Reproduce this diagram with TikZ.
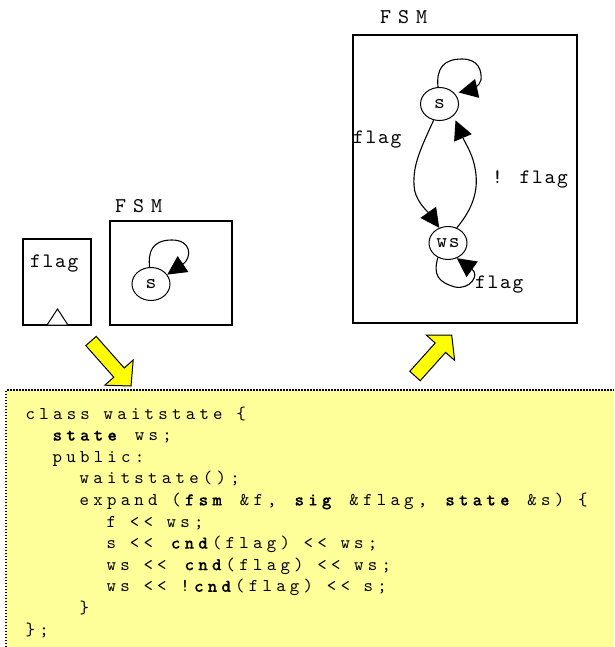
\documentclass[tikz,border=0pt]{standalone}
\usepackage{fontspec}
\usetikzlibrary{arrows.meta,shapes.geometric}
\newfontfamily\codefont{lmmono10-regular.otf}[BoldFont=lmmonolt10-bold.otf, BoldFeatures={FakeBold=0.3}, LetterSpace=23.6]
\newfontfamily\labfont{lmmono10-regular.otf}[LetterSpace=8.5]
\newfontfamily\fsmfont{lmmono10-regular.otf}[LetterSpace=33]
\definecolor{codebg}{RGB}{255,255,153}
\definecolor{arrowyellow}{RGB}{255,255,0}
\tikzset{
  box/.style={draw, line width=1.2pt},
  st/.style={draw, ellipse, line width=1pt, minimum width=38pt, minimum height=33pt, inner sep=0pt,
    font=\labfont\fontsize{20.5}{20.5}\selectfont},
  edge/.style={line width=1.1pt, -{Triangle[length=19pt,width=19pt]}},
  lab/.style={anchor=base west, inner sep=0pt, font=\labfont\fontsize{20.5}{20.5}\selectfont},
  fsmlab/.style={anchor=base west, inner sep=0pt, font=\fsmfont\fontsize{21}{21}\selectfont},
  codeline/.style={anchor=base west, inner sep=0pt, font=\codefont\fontsize{18}{18}\selectfont},
  yarrow/.style={fill=arrowyellow, draw=black, line width=1pt, line join=miter},
  codeborder/.style={line width=1.5pt, dash pattern=on 1.5pt off 1.5pt}
}
\begin{document}
\begin{tikzpicture}[x=1pt,y=-1pt]
\useasboundingbox (0,0) rectangle (614,647);
% code box
\fill[codebg] (6,390) rectangle (614,647);
\draw[codeborder] (6,647) -- (6,390) -- (614,390);
% code lines
\node[codeline] (c1) at (25.5,419) {class waitstate \{};
\node[codeline] (c2) at (52.5,440.6) {\textbf{state} ws;};
\node[codeline] (c3) at (52.5,462.2) {public:};
\node[codeline] (c4) at (79.5,483.8) {waitstate();};
\node[codeline] (c5) at (79.5,505.4) {expand (\textbf{fsm} \&f, \textbf{sig} \&flag, \textbf{state} \&s) \{};
\node[codeline] (c6) at (106.5,527) {f <{}< ws;};
\node[codeline] (c7) at (106.5,548.6) {s <{}< \textbf{cnd}(flag) <{}< ws;};
\node[codeline] (c8) at (106.5,570.2) {ws <{}< \textbf{cnd}(flag) <{}< ws;};
\node[codeline] (c9) at (106.5,591.8) {ws <{}< !\textbf{cnd}(flag) <{}< s;};
\node[codeline] (c10) at (79.5,613.4) {\}};
\node[codeline] (c11) at (25.5,635) {\};};
% yellow arrows
\draw[yarrow] (85.8,345.6) -- (113.8,377.2) -- (104.8,385.2) -- (131,386) -- (133.2,360) -- (124.2,368) -- (96.2,336.4) -- cycle;
\draw[yarrow] (420.2,380.7) -- (445.6,352.4) -- (454.6,360.4) -- (451.7,335) -- (426.2,335) -- (435.2,343) -- (409.8,371.3) -- cycle;
% flag box
\draw[box] (23,239) rectangle (91,325);
\node[lab] (flaglab) at (30,267.3) {flag};
\draw[line width=1pt, fill=white] (47,325) -- (57.5,309) -- (68,325) -- cycle;
% small FSM
\node[fsmlab] (fsm1) at (115,212) {FSM};
\draw[box] (110,221) rectangle (232,325);
\node[st] (s1) at (151,284) {s};
\draw[edge] (s1.95) .. controls (148,252) and (152,240) .. (172,240) .. controls (192,240) and (192,258) .. (s1.30);
% big FSM
\node[fsmlab] (fsm2) at (380,24) {FSM};
\draw[box] (353,35) rectangle (577,323);
\node[st] (s2) at (439.5,104) {s};
\node[st] (ws) at (448,243) {ws};
\draw[edge, shorten >=4pt] (s2.95) .. controls (436,68) and (444,59) .. (462,59) .. controls (478,59) and (482,70) .. (481,80) .. controls (480,86) and (470,90) .. (s2.35);
\draw[edge] (s2.250) .. controls (420,150) and (413,165) .. (414,185) .. controls (414,200) and (428,212) .. (ws.120);
\draw[edge, shorten >=5pt] (ws.60) .. controls (470,212) and (478,195) .. (476,175) .. controls (474,155) and (466,145) .. (s2.-40);
\draw[edge] (ws.235) .. controls (433,275) and (438,282) .. (455,287) .. controls (470,290) and (480,275) .. (ws.-60);
\node[lab] (l1) at (353,143.5) {flag};
\node[lab] (l2) at (492,183.3) {! flag};
\node[lab] (l3) at (475,288.3) {flag};
\end{tikzpicture}
\end{document}
